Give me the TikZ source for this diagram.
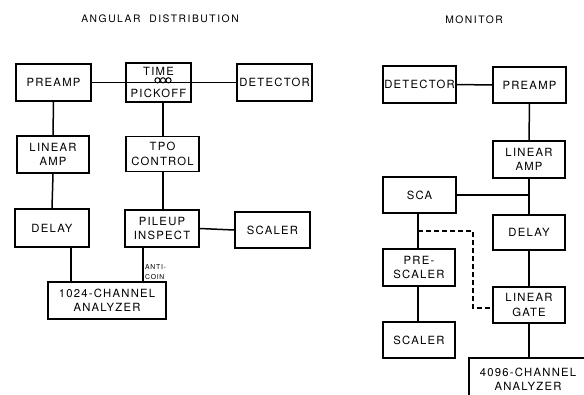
\documentclass[tikz,border=0pt]{standalone}
\usepackage{fontspec}
\setmainfont{TeX Gyre Heros}
\newfontfamily\lblfont[LetterSpace=11]{TeX Gyre Heros}
\newfontfamily\ttlfont[LetterSpace=15]{TeX Gyre Heros}
\begin{document}
\begin{tikzpicture}[x=1pt,y=-1pt,
  blk/.style={draw, line width=1.7pt, align=center, inner sep=0pt,
    font=\lblfont\fontsize{11.3}{14.5}\selectfont},
  wire/.style={line width=1.5pt},
  ttl/.style={font=\ttlfont\fontsize{10.3}{11}\selectfont}]
\useasboundingbox (0,0) rectangle (584,394);
\clip (0,0) rectangle (584,394);
% titles
\node[ttl] (t1) at (160,18.5) {ANGULAR\ \ DISTRIBUTION};
\node[ttl] (t2) at (474,20) {MONITOR};
% left diagram
\node[blk, minimum width=75pt, minimum height=37pt] (pre1) at (53.5,82.5) {PREAMP};
\node[blk, minimum width=65pt, minimum height=39pt] (tpk) at (158.5,82.5) {TIME\\[7pt]PICKOFF};
\node[blk, minimum width=75pt, minimum height=37pt] (det1) at (274.5,82.5) {DETECTOR};
\node[blk, minimum width=72pt, minimum height=37pt] (lin1) at (53,154.5) {LINEAR\\AMP};
\node[blk, minimum width=73pt, minimum height=35pt] (tpo) at (162.5,154) {TPO\\CONTROL};
\node[blk, minimum width=74pt, minimum height=38pt] (del1) at (52,228) {DELAY};
\node[blk, minimum width=74pt, minimum height=37pt] (pile) at (162,228.5) {PILEUP\\INSPECT};
\node[blk, minimum width=75pt, minimum height=36pt] (sca1) at (272.5,230) {SCALER};
\node[blk, minimum width=118pt, minimum height=37pt] (ana1) at (107,300.5) {1024-CHANNEL\\ANALYZER};
\node[anchor=west, align=left, inner sep=0pt, font=\lblfont\fontsize{6.8}{9.5}\selectfont] (ac) at (145,272) {ANTI-\\COIN};
% left wires
\draw[wire] (pre1.east) -- (det1.west);
\draw[wire] (pre1.south) -- (lin1.north);
\draw[wire] (lin1.south) -- (del1.north);
\draw[wire] (del1.south -| 71,0) -- (ana1.north -| 71,0);
\draw[wire] (pile.south -| 143,0) -- (ana1.north -| 143,0);
\draw[wire] (tpk.south -| 163,0) -- (tpo.north -| 163,0);
\draw[wire] (tpo.south -| 163,0) -- (pile.north -| 163,0);
\draw[wire] (pile.east) -- (sca1.west);
% coil
\foreach \cx in {157.5,163,168.5}
  \draw[line width=1pt] (\cx,80.3) circle (2.6pt);
% right diagram
\node[blk, minimum width=73pt, minimum height=37pt] (det2) at (419.5,84.5) {DETECTOR};
\node[blk, minimum width=73pt, minimum height=36pt] (pre2) at (529.5,85) {PREAMP};
\node[blk, minimum width=72pt, minimum height=37pt] (lin2) at (529,159.5) {LINEAR\\AMP};
\node[blk, minimum width=73pt, minimum height=36pt] (sca) at (419.5,195) {SCA};
\node[blk, minimum width=72pt, minimum height=35pt] (del2) at (529,232.5) {DELAY};
\node[blk, minimum width=72pt, minimum height=37pt] (presc) at (419,267.5) {PRE-\\SCALER};
\node[blk, minimum width=72pt, minimum height=36pt] (gate) at (529,305) {LINEAR\\GATE};
\node[blk, minimum width=72pt, minimum height=36pt] (sca2) at (419,340) {SCALER};
\node[blk, minimum width=119pt, minimum height=44pt] (ana2) at (528.5,380) {};
\node[font=\lblfont\fontsize{11.3}{14.5}\selectfont, align=center, inner sep=0pt] (ana2t) at (528,379.5) {4096-CHANNEL\\ANALYZER};
\coordinate (jn) at (529,195);
\coordinate (dd1) at (418,231);
\coordinate (dd2) at (473,231);
\coordinate (dd3) at (473,308);
% right wires
\draw[wire] (det2.east) -- (pre2.west);
\draw[wire] (pre2.south) -- (lin2.north);
\draw[wire] (lin2.south) -- (del2.north);
\draw[wire] (sca.east) -- (jn);
\draw[wire] (sca.south -| 418,0) -- (presc.north -| 418,0);
\draw[wire] (presc.south -| 418,0) -- (sca2.north -| 418,0);
\draw[wire] (del2.south) -- (gate.north);
\draw[wire] (gate.south) -- (ana2.north -| gate.south);
\draw[wire, dash pattern=on 5pt off 3pt] (dd1) -- (dd2) -- (dd3) -- (dd3 -| gate.west);
\end{tikzpicture}
\end{document}
